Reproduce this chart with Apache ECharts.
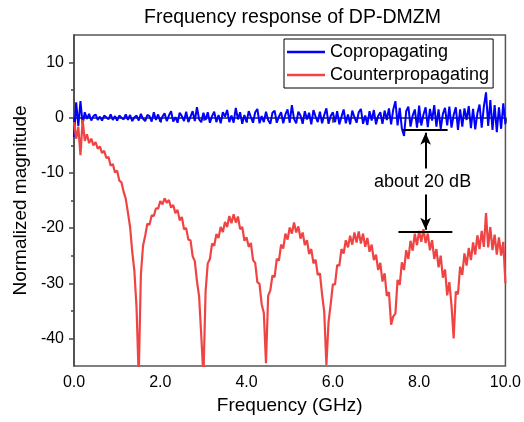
<!DOCTYPE html>
<html>
<head>
<meta charset="utf-8">
<script src="https://cdn.jsdelivr.net/npm/echarts@6/dist/echarts.min.js"></script>
<style>html,body{margin:0;padding:0;background:#fff}#c{width:524px;height:422px}</style>
</head>
<body>
<div id="c"></div>
<script>
const titleText = 'Frequency response of DP-DMZM';
const xName = 'Frequency (GHz)';
const yName = 'Normalized magnitude';
const seriesNames = ['Copropagating', 'Counterpropagating'];
const xMinorTicks = [1, 3, 5, 7, 9];
const yTicks = [-40, -30, -20, -10, 0, 10];
const yMinorTicks = [-35, -25, -15, -5, 5];

const freqGHz = [
0.00,0.05,0.10,0.15,0.20,0.25,0.30,0.35,0.40,0.45,0.50,0.55,0.60,0.65,0.70,0.75,0.80,0.85,0.90,0.95,
1.00,1.05,1.10,1.15,1.20,1.25,1.30,1.35,1.40,1.45,1.50,1.55,1.60,1.65,1.70,1.75,1.80,1.85,1.90,1.95,
2.00,2.05,2.10,2.15,2.20,2.25,2.30,2.35,2.40,2.45,2.50,2.55,2.60,2.65,2.70,2.75,2.80,2.85,2.90,2.95,
3.00,3.05,3.10,3.15,3.20,3.25,3.30,3.35,3.40,3.45,3.50,3.55,3.60,3.65,3.70,3.75,3.80,3.85,3.90,3.95,
4.00,4.05,4.10,4.15,4.20,4.25,4.30,4.35,4.40,4.45,4.50,4.55,4.60,4.65,4.70,4.75,4.80,4.85,4.90,4.95,
5.00,5.05,5.10,5.15,5.20,5.25,5.30,5.35,5.40,5.45,5.50,5.55,5.60,5.65,5.70,5.75,5.80,5.85,5.90,5.95,
6.00,6.05,6.10,6.15,6.20,6.25,6.30,6.35,6.40,6.45,6.50,6.55,6.60,6.65,6.70,6.75,6.80,6.85,6.90,6.95,
7.00,7.05,7.10,7.15,7.20,7.25,7.30,7.35,7.40,7.45,7.50,7.55,7.60,7.65,7.70,7.75,7.80,7.85,7.90,7.95,
8.00,8.05,8.10,8.15,8.20,8.25,8.30,8.35,8.40,8.45,8.50,8.55,8.60,8.65,8.70,8.75,8.80,8.85,8.90,8.95,
9.00,9.05,9.10,9.15,9.20,9.25,9.30,9.35,9.40,9.45,9.50,9.55,9.60,9.65,9.70,9.75,9.80,9.85,9.90,9.95,
10.00
];

const copropagating = [
-3.5,2.8,-1.5,3.0,-1.2,1.0,-0.2,0.7,-0.5,0.3,0.6,-0.4,0.2,-0.5,0.4,0.1,-0.3,0.6,-0.4,0.3,
-0.5,0.4,0.0,-0.3,0.6,-0.4,0.5,-0.6,0.1,0.4,-0.5,0.7,-0.2,-0.6,0.5,0.3,-0.7,1.0,-0.4,0.6,
-0.7,0.2,0.8,-0.6,0.4,1.2,-0.7,0.1,-0.9,0.9,0.3,-0.6,1.1,-0.8,0.2,1.2,-0.6,1.9,-0.3,-0.8,
0.9,-0.4,1.0,-0.9,0.3,1.1,-0.8,0.5,-1.0,1.0,0.2,1.4,-0.8,0.4,-0.9,1.8,-0.3,1.0,-1.1,0.5,
-0.8,1.2,0.1,-0.9,1.0,1.6,-1.0,0.3,-0.8,1.1,-0.4,-1.1,0.9,1.3,-0.9,0.2,1.0,-1.0,0.6,1.5,
-0.9,2.3,-0.2,-1.0,1.1,0.4,-1.1,1.2,-0.3,0.9,-1.2,1.4,0.2,-0.8,1.1,-1.0,0.5,1.7,-1.1,0.3,
1.0,-0.8,1.2,-1.2,0.2,1.5,-1.0,0.6,-1.2,1.3,0.1,-0.9,1.0,1.6,-1.1,0.4,-1.3,1.2,-0.5,1.4,
-1.2,0.3,1.0,-1.1,1.3,-0.4,1.7,-1.2,1.5,3.0,-1.4,1.8,-2.0,-3.3,1.2,2.0,-1.6,0.4,1.5,-1.8,
2.2,-1.4,0.6,1.9,-1.7,1.6,-0.5,2.3,-1.6,1.5,-2.0,0.7,1.8,-1.4,2.0,-1.8,0.5,1.9,-2.2,1.5,
-1.6,1.7,-0.4,2.1,-1.9,1.6,-2.1,0.8,2.4,-1.8,2.0,4.6,-1.5,3.2,-2.2,2.3,-2.6,1.9,-2.0,2.6,
-1.2
];

const counterpropagating = [
-0.8,-3.8,-1.6,-6.8,-0.4,-4.2,-3.0,-4.6,-3.8,-5.0,-4.4,-5.6,-5.2,-6.4,-6.0,-7.3,-7.1,-8.7,-8.4,-9.9,
-9.6,-11.4,-11.7,-13.4,-14.7,-17.2,-19.8,-24.3,-27.8,-34.5,-47,-28.5,-23.2,-21.4,-19.2,-19.4,-17.7,-17.8,-16.4,-16.5,
-15.1,-15.7,-14.6,-15.4,-14.9,-16.3,-15.8,-17.3,-16.7,-18.6,-18.0,-20.2,-20.0,-22.1,-22.2,-25.1,-26.0,-29.6,-32.4,-39.5,
-47,-31.5,-26.4,-25.6,-22.8,-23.2,-21.1,-21.8,-19.8,-20.7,-18.9,-19.8,-17.8,-19.1,-17.5,-19.0,-17.9,-20.2,-19.8,-22.3,
-21.7,-23.4,-22.7,-25.8,-26.3,-29.8,-30.1,-33.8,-35.4,-44.5,-32.3,-31.3,-28.6,-28.9,-25.6,-25.9,-23.0,-23.7,-21.0,-22.1,
-19.9,-21.0,-19.0,-20.8,-19.7,-21.9,-20.8,-23.1,-22.2,-24.7,-23.8,-26.4,-25.7,-28.5,-28.2,-32.0,-35.2,-44.8,-37.0,-33.8,
-30.2,-30.2,-26.7,-26.8,-23.8,-24.6,-22.2,-23.5,-21.4,-23.0,-20.8,-22.6,-20.6,-22.8,-21.0,-23.4,-21.8,-24.3,-23.0,-25.8,
-24.8,-27.6,-26.3,-29.7,-28.2,-32.3,-31.6,-37.5,-36.0,-35.5,-29.4,-30.3,-26.2,-27.6,-24.0,-25.6,-22.3,-24.1,-21.0,-23.1,
-20.5,-22.5,-20.2,-22.7,-21.0,-24.0,-22.2,-25.6,-23.8,-27.1,-25.0,-29.0,-27.5,-32.2,-29.8,-34.0,-40.0,-31.5,-32.0,-27.0,
-28.5,-24.6,-26.8,-23.6,-25.8,-22.6,-24.8,-21.3,-23.8,-20.5,-23.4,-17.3,-23.5,-19.8,-24.0,-21.2,-24.8,-21.7,-25.0,-22.5,
-30.0
];

// annotation (data coordinates)
const upperBar = [[7.62, -2.2], [8.66, -2.2]];
const lowerBar = [[7.52, -20.6], [8.77, -20.6]];
const upArrow = [[8.15, -9.2], [8.15, -2.7]];
const downArrow = [[8.15, -13.9], [8.15, -20.3]];
const annotText = 'about 20 dB';
const annotPos = [8.08, -11.7];

const FONT = 'Liberation Sans, Arial, sans-serif';
const pair = (xs, ys) => xs.map((x, i) => [x, ys[i]]);

const chart = echarts.init(document.getElementById('c'), null, {renderer: 'canvas'});
chart.setOption({
  animation: false,
  backgroundColor: '#fff',
  textStyle: {fontFamily: FONT},
  title: {
    text: titleText, left: 139, top: 3,
    textStyle: {fontFamily: FONT, fontSize: 19.5, fontWeight: 'normal', color: '#000'}
  },
  grid: {left: 74, right: 18, top: 35, bottom: 56, show: true, borderColor: '#555', borderWidth: 1.5, containLabel: false},
  legend: {
    data: seriesNames.map(n => ({name: n, icon: 'rect'})), orient: 'vertical', left: 284, top: 39,
    padding: [4, 4, 4, 3], itemGap: 5, itemWidth: 38, itemHeight: 2.5,
    borderColor: '#000', borderWidth: 1, backgroundColor: '#fff',
    textStyle: {fontFamily: FONT, fontSize: 18, color: '#000'}
  },
  xAxis: [{
    type: 'value', min: 0, max: 10, interval: 2,
    name: xName, nameLocation: 'middle', nameGap: 30,
    nameTextStyle: {fontFamily: FONT, fontSize: 19, color: '#000'},
    axisLine: {show: true, lineStyle: {color: '#222', width: 1.5}},
    axisTick: {show: true, inside: false, length: 5, lineStyle: {color: '#222', width: 1.5}},
    axisLabel: {margin: 9, fontFamily: FONT, fontSize: 16, color: '#000', formatter: v => v.toFixed(1)},
    splitLine: {show: false}
  }, {
    type: 'value', min: 0, max: 10, position: 'bottom',
    axisLine: {show: false},
    axisTick: {show: true, inside: false, length: 3, customValues: xMinorTicks, lineStyle: {color: '#222', width: 1.5}},
    axisLabel: {show: false},
    splitLine: {show: false}
  }],
  yAxis: [{
    type: 'value', min: -45, max: 15,
    name: yName, nameLocation: 'middle', nameGap: 38, nameRotate: 90,
    nameTextStyle: {fontFamily: FONT, fontSize: 19, color: '#000'},
    axisLine: {show: true, lineStyle: {color: '#444', width: 1.5}},
    axisTick: {show: true, inside: false, length: 5, customValues: yTicks, lineStyle: {color: '#444', width: 1.5}},
    axisLabel: {margin: 10, fontFamily: FONT, fontSize: 16, color: '#000', customValues: yTicks},
    splitLine: {show: false}
  }, {
    type: 'value', min: -45, max: 15, position: 'left',
    axisLine: {show: false},
    axisTick: {show: true, inside: false, length: 3, customValues: yMinorTicks, lineStyle: {color: '#444', width: 1.5}},
    axisLabel: {show: false},
    splitLine: {show: false}
  }],
  series: [{
    name: seriesNames[0], type: 'line', symbol: 'none', data: pair(freqGHz, copropagating),
    lineStyle: {color: '#0000ff', width: 2}, itemStyle: {color: '#0000ff'}, clip: true, z: 2
  }, {
    name: seriesNames[1], type: 'line', symbol: 'none', data: pair(freqGHz, counterpropagating),
    lineStyle: {color: '#f04444', width: 2.2}, itemStyle: {color: '#f04444'}, clip: true, z: 3
  }, {
    name: 'annotation', type: 'line', data: [], z: 5,
    markLine: {
      silent: true, animation: false, symbol: 'none',
      label: {show: false},
      lineStyle: {color: '#000', width: 2, type: 'solid'},
      data: [
        [{coord: upperBar[0]}, {coord: upperBar[1]}],
        [{coord: lowerBar[0]}, {coord: lowerBar[1]}],
        [{coord: upArrow[0], symbol: 'none'}, {coord: upArrow[1], symbol: 'arrow', symbolSize: [8, 12]}],
        [{coord: downArrow[0], symbol: 'none'}, {coord: downArrow[1], symbol: 'arrow', symbolSize: [8, 12]}]
      ]
    },
    markPoint: {
      silent: true, animation: false,
      data: [{coord: annotPos, symbol: 'rect', symbolSize: 1, itemStyle: {color: 'rgba(0,0,0,0)'},
        label: {show: true, position: 'inside', formatter: annotText, fontFamily: FONT, fontSize: 18, color: '#000'}}]
    }
  }]
});
</script>
</body>
</html>
